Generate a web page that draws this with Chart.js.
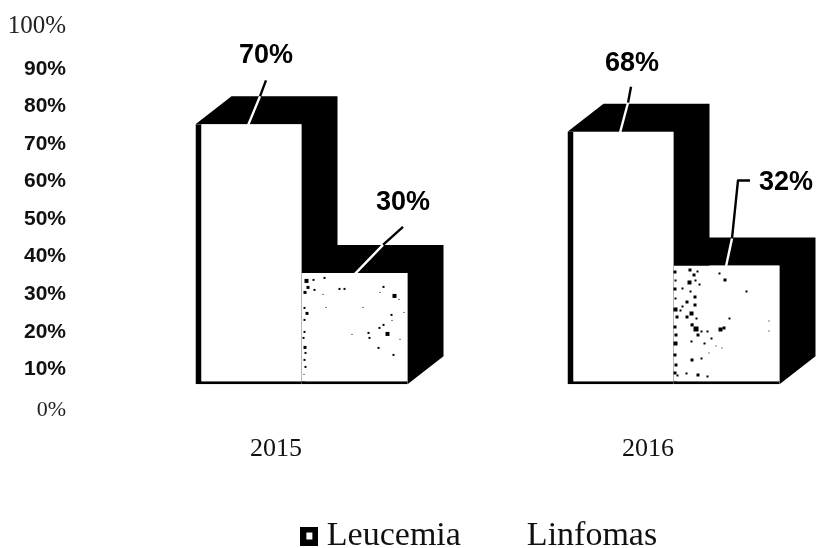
<!DOCTYPE html>
<html>
<head>
<meta charset="utf-8">
<style>
html,body{margin:0;padding:0;background:#fff;width:818px;height:548px;overflow:hidden}
canvas{display:block}
</style>
<script src="https://cdn.jsdelivr.net/npm/chart.js@4/dist/chart.umd.min.js"></script>
</head>
<body>
<canvas id="c" width="966" height="563"></canvas>
<script>
const categories = ["2015", "2016"];
const leucemia = [70, 68];
const linfomas = [30, 32];
const yTicks = [0, 10, 20, 30, 40, 50, 60, 70, 80, 90, 100];
const seriesNames = ["Leucemia", "Linfomas"];

// styling of the scanned 3D look
const depth = { dx: 36, dy: -28 };
const serif = '"Liberation Serif"';
const sans = '"Liberation Sans"';
const tickNudge = { 0: 3.6, 100: -4.9 };
const labelOffsets = [
  [[17.5, -69], [11.5, -68]],
  [[48.5, -70], [59.5, -83]]
];
const leaderPaths = [
  [[[17.5, -44], [11.5, -28], [-0.5, 1]], [[10.5, -45], [7.5, -29], [-0.5, 1]]],
  [[[48.5, -46], [28.5, -28], [0.5, 1]], [[23.5, -85], [11.5, -85], [5.5, -27], [-0.5, 1]]]
];
const specks = [
  [[3,6,4],[5,13,3],[2,18,3],[11,6,2],[12,16,2],[22,4,2],[21,21,1],[37,15,2],[42,15,2],[24,34,1],[81,13,2],[78,19,1],[91,21,4],[97,26,1],[89,41,2],[102,39,1],[61,34,1],[90,47,1],[81,51,2],[77,54,2],[84,59,4],[66,59,2],[67,64,2],[50,61,1],[98,66,1],[76,74,2],[91,81,2],[2,34,2],[4,39,3],[2,46,2],[2,58,2],[1,64,2],[2,73,3],[3,79,2],[2,86,2],[3,93,2],[2,101,1]],
  [[0,5,3],[1,14,2],[0,22,3],[1,32,2],[0,42,4],[2,50,3],[0,60,3],[1,68,3],[0,76,4],[0,88,3],[1,98,3],[0,106,3],[3,109,2],[15,3,3],[19,8,3],[23,5,2],[14,15,4],[21,14,2],[25,18,2],[8,22,2],[16,25,2],[20,30,3],[12,35,3],[8,40,2],[20,38,3],[16,46,4],[12,50,3],[22,52,2],[6,44,2],[18,58,2],[20,61,5],[17,58,3],[23,68,3],[17,75,2],[27,65,2],[33,65,2],[37,72,2],[30,77,2],[45,62,4],[49,61,3],[55,52,2],[42,80,1],[48,82,1],[17,93,3],[27,92,2],[35,87,1],[12,107,2],[23,108,3],[33,110,2],[50,13,3],[45,7,2],[72,25,2],[95,55,1],[95,65,1]]
];

function swatch(visible) {
  const s = document.createElement('canvas');
  s.width = 18; s.height = 19;
  const g = s.getContext('2d');
  if (visible) {
    g.fillStyle = '#000'; g.fillRect(0, 0, 18, 19);
    g.fillStyle = '#fff'; g.fillRect(6, 6, 6, 7);
  }
  return s;
}

const scan3d = {
  id: 'scan3d',
  beforeDatasetsDraw(chart) {
    const ctx = chart.ctx;
    ctx.save();
    ctx.fillStyle = '#000';
    chart.data.datasets.forEach((ds, d) => {
      chart.getDatasetMeta(d).data.forEach(bar => {
        const l = bar.x - bar.width / 2, r = bar.x + bar.width / 2, t = bar.y, b = bar.base;
        ctx.beginPath();
        ctx.moveTo(l, t);
        ctx.lineTo(l + depth.dx, t + depth.dy);
        ctx.lineTo(r + depth.dx, t + depth.dy);
        ctx.lineTo(r + depth.dx, b + depth.dy);
        ctx.lineTo(r, b);
        ctx.lineTo(r, t);
        ctx.closePath();
        ctx.fill();
      });
    });
    ctx.restore();
  },
  afterDatasetsDraw(chart) {
    const ctx = chart.ctx;
    ctx.save();
    ctx.fillStyle = '#000';
    chart.getDatasetMeta(1).data.forEach((bar, i) => {
      const l = bar.x - bar.width / 2;
      specks[i].forEach(([x, y, s]) => ctx.fillRect(l + x, bar.y + y, s, s));
    });
    chart.data.datasets.forEach((ds, d) => {
      chart.getDatasetMeta(d).data.forEach((bar, i) => {
        const path = leaderPaths[d][i];
        ctx.lineWidth = 2.4;
        ctx.lineCap = 'butt';
        ctx.lineJoin = 'round';
        ctx.strokeStyle = '#000';
        ctx.beginPath();
        path.slice(0, -1).forEach(([x, y], k) => {
          if (k) ctx.lineTo(bar.x + x, bar.y + y); else ctx.moveTo(bar.x + x, bar.y + y);
        });
        ctx.stroke();
        const a = path[path.length - 2], z = path[path.length - 1];
        ctx.strokeStyle = '#fff';
        ctx.beginPath();
        ctx.moveTo(bar.x + a[0], bar.y + a[1]);
        ctx.lineTo(bar.x + z[0], bar.y + z[1]);
        ctx.stroke();
        const [ox, oy] = labelOffsets[d][i];
        ctx.fillStyle = '#000';
        ctx.font = 'bold 27px ' + sans;
        ctx.textAlign = 'center';
        ctx.textBaseline = 'middle';
        ctx.fillText(ds.data[i] + '%', bar.x + ox, bar.y + oy);
      });
    });
    ctx.restore();
  }
};

new Chart(document.getElementById('c'), {
  type: 'bar',
  data: {
    labels: categories,
    datasets: [
      { label: seriesNames[0], data: leucemia, yAxisID: 'yFront', backgroundColor: '#fff', borderColor: '#000',
        borderWidth: { left: 6, bottom: 3, top: 0, right: 0 }, borderSkipped: false, inflateAmount: 0 },
      { label: seriesNames[1], data: linfomas, yAxisID: 'yFront', backgroundColor: '#fff', borderColor: '#000',
        borderWidth: { left: 0, bottom: 3, top: 0, right: 0 }, borderSkipped: false, inflateAmount: 0 }
    ]
  },
  options: {
    responsive: false,
    animation: false,
    devicePixelRatio: 1,
    barPercentage: 1,
    categoryPercentage: 212 / 372,
    layout: { padding: { top: 31.4 } },
    plugins: {
      tooltip: { enabled: false },
      title: { display: false },
      legend: {
        display: true,
        position: 'bottom',
        labels: {
          usePointStyle: true,
          pointStyleWidth: 1,
          padding: 48,
          color: '#111',
          font: { family: serif, size: 34 },
          generateLabels: () => seriesNames.map((n, i) => ({
            text: n, datasetIndex: i, hidden: false, fontColor: '#111',
            fillStyle: '#fff', strokeStyle: '#000', lineWidth: 0,
            pointStyle: swatch(i === 0)
          }))
        }
      }
    },
    scales: {
      x: {
        grid: { display: false, drawTicks: false },
        border: { display: false },
        afterFit: s => { s.height = 64.2; },
        ticks: {
          color: '#111', padding: 26.5, labelOffset: -25.5, maxRotation: 0, autoSkip: false,
          font: { family: serif, size: 26 }
        }
      },
      y: {
        min: 0, max: 100,
        position: 'left',
        grid: { display: true, drawOnChartArea: false, drawTicks: true, tickLength: 49.5, tickColor: 'rgba(0,0,0,0)', color: 'rgba(0,0,0,0)' },
        border: { display: false },
        afterFit: s => { s.width = 115.5; },
        afterBuildTicks: s => {
          s.ticks = yTicks.map(v => ({ value: v }));
          if (s.nudged) return;
          s.nudged = true;
          const base = s.getPixelForTick;
          s.getPixelForTick = function (i) {
            const t = this.ticks[i];
            return base.call(this, i) + ((t && tickNudge[t.value]) || 0);
          };
        },
        ticks: {
          padding: 0,
          color: c => (c.tick.value === 0 || c.tick.value === 100) ? '#222' : '#111',
          callback: v => v + '%',
          font: c => {
            if (c.tick && c.tick.value === 100) return { family: serif, size: 25 };
            if (c.tick && c.tick.value === 0) return { family: serif, size: 22 };
            return { family: sans, size: 21, weight: 'bold' };
          }
        }
      },
      yFront: {
        min: -6.05, max: 95.03,
        position: 'right',
        grid: { display: false, drawTicks: false },
        border: { display: false },
        ticks: { display: false },
        afterFit: s => { s.width = 106.5; }
      }
    }
  },
  plugins: [scan3d]
});
</script>
</body>
</html>
